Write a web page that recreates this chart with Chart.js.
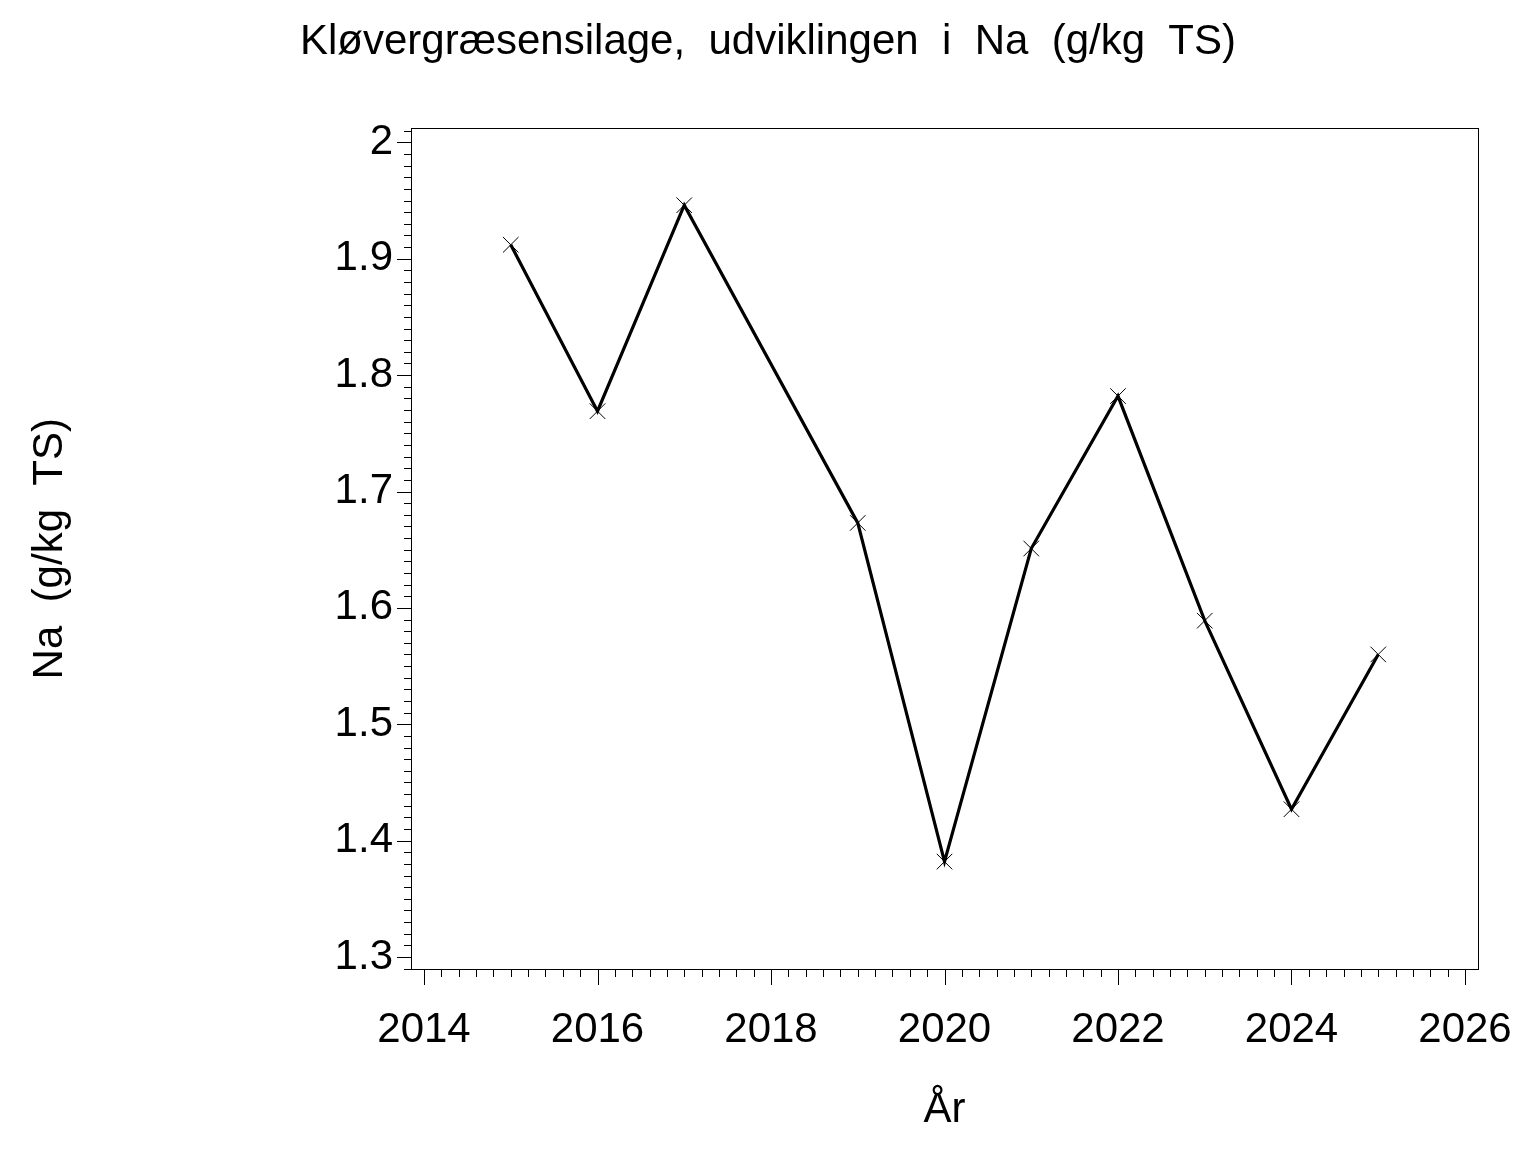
<!DOCTYPE html>
<html>
<head>
<meta charset="utf-8">
<script src="https://cdn.jsdelivr.net/npm/chart.js@4"></script>
<style>
  html, body { margin: 0; padding: 0; background: #fff; }
  #wrap { width: 1536px; height: 1152px; }
</style>
</head>
<body>
<div id="wrap"><canvas id="chart" width="1536" height="1152"></canvas></div>
<script>
// data
const years = [2015, 2016, 2017, 2019, 2020, 2021, 2022, 2023, 2024, 2025];
const naValues = [1.912, 1.769, 1.946, 1.673, 1.382, 1.651, 1.782, 1.589, 1.427, 1.560];
const xTickLabels = [2014, 2016, 2018, 2020, 2022, 2024, 2026];
const yTickLabels = [1.3, 1.4, 1.5, 1.6, 1.7, 1.8, 1.9, 2];

const FONT = "'Liberation Sans', Arial, sans-serif";

const near = (a, b) => Math.abs(a - b) < 1e-6;

// draws major / minor tick marks outside the frame
const tickMarks = {
  id: 'tickMarks',
  afterDraw(chart) {
    const ctx = chart.ctx;
    const xs = chart.scales.x, ys = chart.scales.y;
    ctx.save();
    ctx.strokeStyle = '#000';
    ctx.lineWidth = 1;
    ctx.beginPath();
    xs.ticks.forEach(t => {
      const major = xTickLabels.some(v => near(v, t.value));
      const px = Math.round(xs.getPixelForValue(t.value)) + 0.5;
      ctx.moveTo(px, ys.bottom);
      ctx.lineTo(px, ys.bottom + (major ? 16 : 8));
    });
    ys.ticks.forEach(t => {
      const major = yTickLabels.some(v => near(v, t.value));
      const py = Math.round(ys.getPixelForValue(t.value)) + 0.5;
      ctx.moveTo(xs.left, py);
      ctx.lineTo(xs.left - (major ? 14 : 7), py);
    });
    ctx.stroke();
    // frame
    const a = chart.chartArea;
    ctx.strokeRect(Math.round(a.left) + 0.5, Math.round(a.top) + 0.5,
      Math.round(a.right - a.left), Math.round(a.bottom - a.top));
    ctx.restore();
  }
};

new Chart(document.getElementById('chart'), {
  type: 'scatter',
  data: {
    datasets: [{
      data: years.map((y, i) => ({ x: y, y: naValues[i] })),
      showLine: true,
      borderColor: '#000',
      borderWidth: 3.2,
      pointStyle: 'crossRot',
      pointRadius: 11,
      pointBorderWidth: 1,
      pointBorderColor: '#000',
      pointBackgroundColor: '#000',
      tension: 0
    }]
  },
  options: {
    responsive: false,
    animation: false,
    layout: { padding: 0 },
    plugins: {
      legend: { display: false },
      tooltip: { enabled: false },
      title: {
        display: true,
        text: 'Kløvergræsensilage,  udviklingen  i  Na  (g/kg  TS)',
        color: '#000',
        font: { family: FONT, size: 42, weight: 'normal' },
        padding: { top: 17, bottom: 61 }
      }
    },
    scales: {
      x: {
        type: 'linear',
        min: 2013.85,
        max: 2026.15,
        afterFit: s => { s.height = 183; s.paddingLeft = 0; s.paddingRight = 58; },
        grid: { display: false, drawTicks: false },
        border: { display: true, color: '#000', width: 1 },
        ticks: {
          stepSize: 0.2,
          includeBounds: false,
          autoSkip: false,
          maxRotation: 0,
          padding: 36,
          color: '#000',
          font: { family: FONT, size: 42 },
          callback: v => {
            const hit = xTickLabels.find(t => near(t, v));
            return hit !== undefined ? String(hit) : '';
          }
        },
        title: {
          display: true,
          text: 'År',
          color: '#000',
          font: { family: FONT, size: 42 },
          padding: { top: 10, bottom: 16 }
        }
      },
      y: {
        type: 'linear',
        min: 1.2897,
        max: 2.012,
        afterFit: s => { s.width = 411; },
        grid: { display: false, drawTicks: false },
        border: { display: true, color: '#000', width: 1 },
        ticks: {
          stepSize: 0.01,
          includeBounds: false,
          autoSkip: false,
          padding: 18,
          color: '#000',
          font: { family: FONT, size: 42 },
          callback: v => {
            const hit = yTickLabels.find(t => near(t, v));
            return hit !== undefined ? String(hit) : '';
          }
        },
        title: {
          display: true,
          text: 'Na  (g/kg  TS)',
          color: '#000',
          font: { family: FONT, size: 42 },
          padding: { top: 25, bottom: 0 }
        }
      }
    }
  },
  plugins: [tickMarks]
});
</script>
</body>
</html>
